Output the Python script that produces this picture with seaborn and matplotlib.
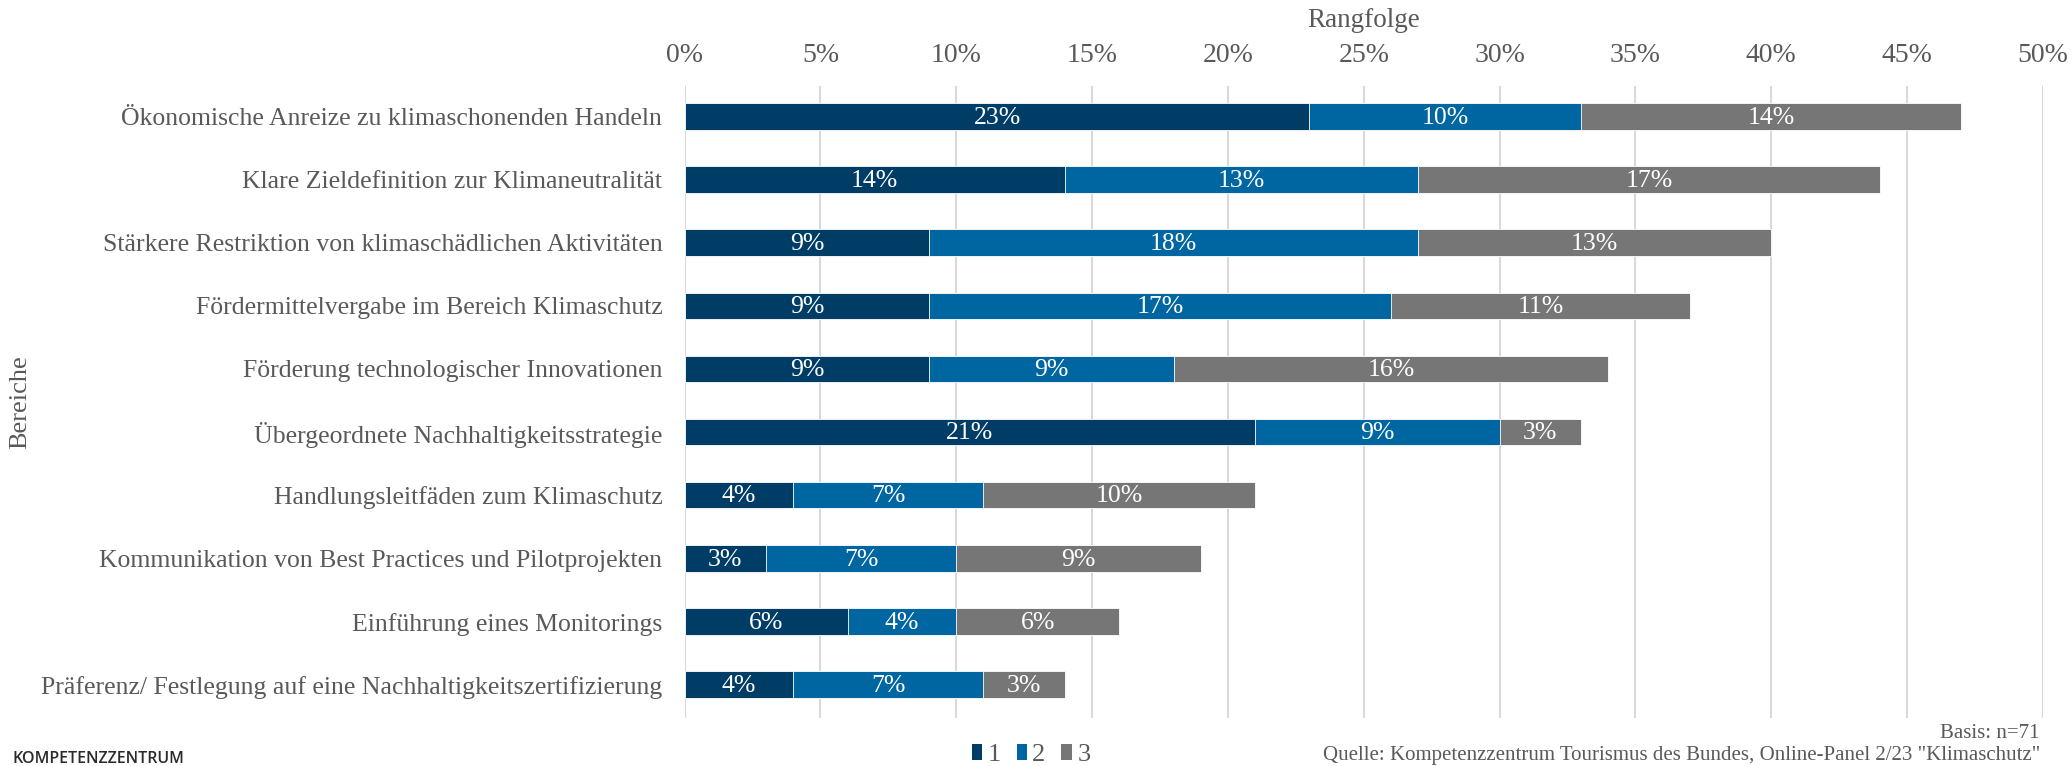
import matplotlib
matplotlib.use("Agg")
import numpy as np
import pandas as pd
import matplotlib.pyplot as plt
import seaborn as sns
from matplotlib.patches import Patch

# Survey areas (top to bottom) and share of respondents per rank (in %)
categories = [
    "Ökonomische Anreize zu klimaschonenden Handeln",
    "Klare Zieldefinition zur Klimaneutralität",
    "Stärkere Restriktion von klimaschädlichen Aktivitäten",
    "Fördermittelvergabe im Bereich Klimaschutz",
    "Förderung technologischer Innovationen",
    "Übergeordnete Nachhaltigkeitsstrategie",
    "Handlungsleitfäden zum Klimaschutz",
    "Kommunikation von Best Practices und Pilotprojekten",
    "Einführung eines Monitorings",
    "Präferenz/ Festlegung auf eine Nachhaltigkeitszertifizierung",
]
rank1 = [23, 14, 9, 9, 9, 21, 4, 3, 6, 4]
rank2 = [10, 13, 18, 17, 9, 9, 7, 7, 4, 7]
rank3 = [14, 17, 13, 11, 16, 3, 10, 9, 6, 3]
series_labels = ["1", "2", "3"]
x_ticks = [0, 5, 10, 15, 20, 25, 30, 35, 40, 45, 50]

NAVY = "#003D66"
BLUE = "#0066A1"
GREY = "#767676"
TEXT = "#595959"
colors = [NAVY, BLUE, GREY]

sns.set_theme(style="white")
plt.rcParams["font.family"] = ["Liberation Serif", "DejaVu Serif"]

df = pd.DataFrame({"Bereich": categories, "r1": rank1, "r2": rank2, "r3": rank3})
df["c1"] = df["r1"]
df["c2"] = df["c1"] + df["r2"]
df["c3"] = df["c2"] + df["r3"]

fig = plt.figure(figsize=(20.72, 7.66), dpi=100)
ax = fig.add_axes([0.3304, 0.0633, 0.6556, 0.8244])

# stacked bars: draw cumulative totals back to front
for col, color in [("c3", GREY), ("c2", BLUE), ("c1", NAVY)]:
    sns.barplot(data=df, x=col, y="Bereich", color=color, saturation=1,
                width=0.42, orient="h", ax=ax, edgecolor="white", linewidth=0.6)

# segment value labels
for i in range(len(categories)):
    start = 0
    for vals in (rank1, rank2, rank3):
        v = vals[i]
        ax.text(start + v / 2, i + 0.02, f"{v}%", ha="center", va="center",
                color="white", fontsize=18.5)
        start += v

ax.set_xlim(0, 50)
ax.set_ylim(len(categories) - 0.48, -0.48)
ax.set_xticks(x_ticks)
ax.set_xticklabels([f"{t}%" for t in x_ticks])
ax.xaxis.tick_top()
ax.xaxis.set_label_position("top")
ax.tick_params(axis="x", length=0, pad=13, labelsize=20, colors=TEXT)
ax.tick_params(axis="y", length=0, pad=16, labelsize=18.5, colors=TEXT)
ax.grid(axis="x", color="#d9d9d9", linewidth=1.5)
ax.grid(axis="y", visible=False)
ax.set_axisbelow(True)
for s in ax.spines.values():
    s.set_visible(False)

ax.set_xlabel("Rangfolge", fontsize=19.5, color=TEXT)
ax.xaxis.label.set_va("center")
ax.xaxis.set_label_coords(0.5, 1.1045)
ax.set_ylabel("Bereiche", fontsize=19, color=TEXT)
ax.yaxis.label.set_va("center")
ax.yaxis.set_label_coords(-0.489, 0.5)

handles = [Patch(facecolor=c, edgecolor="none", label=l) for c, l in zip(colors, series_labels)]
fig.legend(handles=handles, loc="center", bbox_to_anchor=(1031 / 2072, 1 - 755 / 766),
           ncol=3, frameon=False, fontsize=19, handlelength=0.4, handleheight=0.6,
           handletextpad=0.2, columnspacing=0.6, labelcolor=TEXT)

fig.text(2040 / 2072, 1 - 734 / 766, "Basis: n=71", ha="right", va="center",
         fontsize=15, color=TEXT)
fig.text(2040 / 2072, 0.001,
         'Quelle: Kompetenzzentrum Tourismus des Bundes, Online-Panel 2/23 "Klimaschutz"',
         ha="right", va="bottom", fontsize=15, color=TEXT)
fig.text(13 / 2072, 1 - 759 / 766, "KOMPETENZZENTRUM", ha="left", va="center",
         fontsize=11.5, fontweight="semibold", family=["Open Sans", "DejaVu Sans"],
         color="#2a2a2a")

fig.savefig("out.png", dpi=100)
